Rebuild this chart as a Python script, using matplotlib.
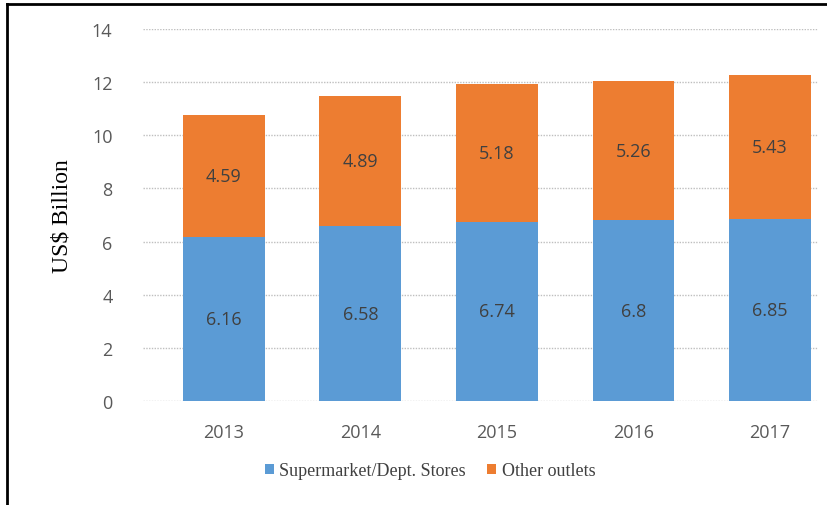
import numpy as np
import matplotlib.pyplot as plt
from matplotlib.lines import Line2D

years = ['2013', '2014', '2015', '2016', '2017']
supermarket = [6.16, 6.58, 6.74, 6.8, 6.85]
other = [4.59, 4.89, 5.18, 5.26, 5.43]

BLUE = '#5B9BD5'
ORANGE = '#ED7D31'

fig = plt.figure(figsize=(8.27, 5.06), dpi=100)
ax = fig.add_axes([0.173, 0.2055, 0.816, 0.735])

x = np.arange(len(years))
b1 = ax.bar(x, supermarket, width=0.6, color=BLUE, label='Supermarket/Dept. Stores', zorder=2)
b2 = ax.bar(x, other, width=0.6, bottom=supermarket, color=ORANGE, label='Other outlets', zorder=2)

for i in range(len(years)):
    ax.text(x[i], supermarket[i] / 2, f'{supermarket[i]:g}', ha='center', va='center',
            fontsize=13, color='#404040', family='Open Sans')
    ax.text(x[i], supermarket[i] + other[i] / 2, f'{other[i]:g}', ha='center', va='center',
            fontsize=13, color='#404040', family='Open Sans')

ax.set_xlim(-0.59, 4.35)
ax.set_ylim(0, 14)
ax.set_yticks(range(0, 15, 2))
ax.set_xticks(x)
ax.set_xticklabels(years)
ax.yaxis.grid(True, color='#BFBFBF', linestyle=(0, (1, 1)), linewidth=1, zorder=0)
for s in ax.spines.values():
    s.set_visible(False)
ax.tick_params(length=0, labelsize=13, labelcolor='#595959')
ax.tick_params(axis='x', pad=16)
ax.tick_params(axis='y', pad=22)
for lab in ax.get_xticklabels() + ax.get_yticklabels():
    lab.set_family('Open Sans')

ax.set_ylabel('US$ Billion', family='Liberation Serif', fontsize=17, color='black', labelpad=14)

fig.legend(handles=[b1, b2], loc='center', bbox_to_anchor=(0.52, 0.068), ncol=2, frameon=False,
           prop={'family': 'Liberation Serif', 'size': 13}, handlelength=0.5, handleheight=0.5,
           handletextpad=0.3, columnspacing=1.2, labelcolor='#404040')

# frame around the picture, cut at the right and bottom edges
top_px = 5
left_px = 7
fig.add_artist(Line2D([left_px, left_px], [0, fig.bbox.height - top_px], transform=None,
                      color='black', linewidth=2, zorder=10))
fig.add_artist(Line2D([left_px, fig.bbox.width], [fig.bbox.height - top_px] * 2, transform=None,
                      color='black', linewidth=2, zorder=10))

fig.savefig('out.png', dpi=100)
